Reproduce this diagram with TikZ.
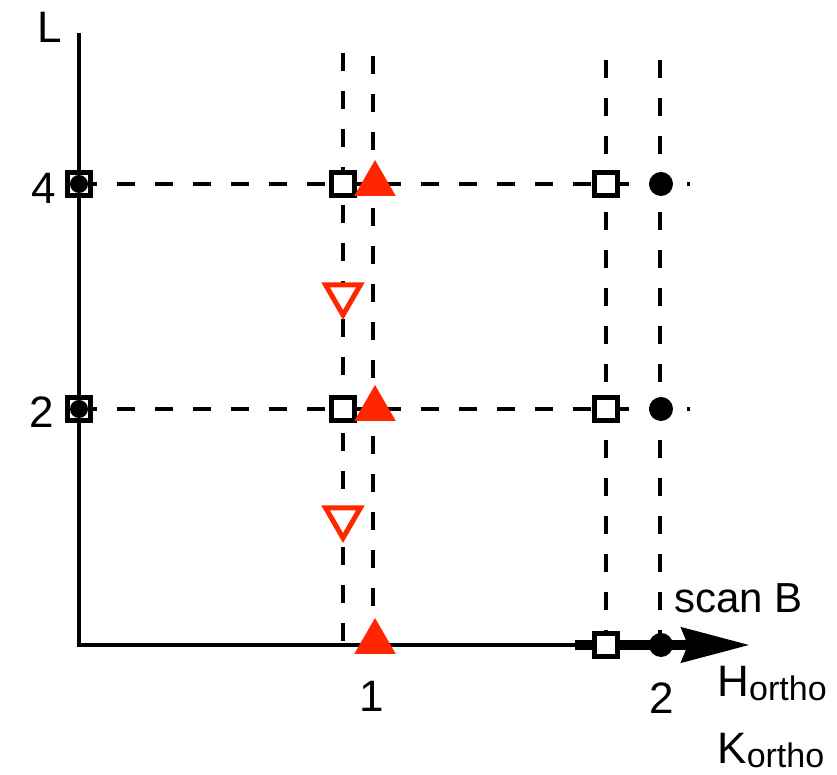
\documentclass[tikz,border=0pt]{standalone}
\usepackage{fontspec}
\setmainfont{Liberation Sans}
\usetikzlibrary{arrows.meta,shapes.geometric}
\definecolor{markred}{RGB}{255,38,0}
\begin{document}
\begin{tikzpicture}[x=0.5pt,y=0.5pt,
  lbl/.style={inner sep=0pt,font=\fontsize{22}{26}\selectfont},
  grid/.style={line width=2pt,dash pattern=on 9pt off 10pt},
  opensq/.style={draw,fill=white,line width=2.2pt,minimum size=11.5pt,inner sep=0pt},
  dot/.style={circle,fill=black,minimum size=12pt,inner sep=0pt},
  uptri/.style={regular polygon,regular polygon sides=3,fill=markred,minimum size=24pt,inner sep=0pt,outer sep=0pt},
  downtri/.style={regular polygon,regular polygon sides=3,shape border rotate=180,draw=markred,line width=2.5pt,fill=white,minimum size=20pt,inner sep=0pt,outer sep=0pt}]
  \useasboundingbox (0,0) rectangle (837,775);
  \coordinate (o) at (79,130);
  \coordinate (ytop) at (79,742);
  \coordinate (xthick) at (575,130);
  \coordinate (xtip) at (750,130);
  \coordinate (v1) at (343,722);
  \coordinate (v2) at (373,719);
  \coordinate (v3) at (606,715);
  \coordinate (v4) at (660,715);
  \coordinate (h4) at (79,591);
  \coordinate (h2) at (79,366);
  \coordinate (h4end) at (690,591);
  \coordinate (h2end) at (690,366);
  % scan lines
  \draw[grid] (v1) -- (v1 |- o);
  \draw[grid] (v2) -- (v2 |- o);
  \draw[grid] (v3) -- (v3 |- o);
  \draw[grid] (v4) -- (v4 |- o);
  \draw[grid] (h4) -- (h4end);
  \draw[grid] (h2) -- (h2end);
  % axes
  \draw[line width=2pt] (ytop) -- (o) -- (xthick);
  \draw[line width=5pt,-{Stealth[length=34pt,width=17pt,inset=3pt]}] (xthick) -- (xtip);
  % points
  \node[opensq] (l4) at (h4) {};
  \node[dot,minimum size=9pt] (l4dot) at (l4) {};
  \node[opensq] (l2) at (h2) {};
  \node[dot,minimum size=9pt] (l2dot) at (l2) {};
  \node[opensq] (a4) at (343,591) {};
  \node[opensq] (a2) at (343,366) {};
  \node[opensq] (b4) at (606,591) {};
  \node[opensq] (b2) at (606,366) {};
  \node[opensq] (b0) at (606,130) {};
  \node[dot] (c4) at (661,591) {};
  \node[dot] (c2) at (661,366) {};
  \node[dot] (c0) at (661,130) {};
  \node[uptri] (t4) at (375,591) {};
  \node[uptri] (t2) at (375,366) {};
  \node[uptri] (t0) at (375,133) {};
  \node[downtri] (d3) at (343,480) {};
  \node[downtri] (d1) at (343,257) {};
  % labels
  \node[lbl] (labL) at (50,748) {L};
  \node[lbl] (lab4) at (44,587) {4};
  \node[lbl] (lab2) at (42,363) {2};
  \node[lbl] (lab1) at (372,79) {1};
  \node[lbl] (labh2) at (662,77) {2};
  \node[lbl,anchor=base west] (scan) at (674,162) {\fontsize{21}{24}\selectfont scan B};
  \node[lbl,anchor=base west] (hlab) at (717,78) {H\raisebox{-2pt}{\fontsize{17}{20}\selectfont ortho}};
  \node[lbl,anchor=base west] (klab) at (717,11) {K\raisebox{-2pt}{\fontsize{17}{20}\selectfont ortho}};
\end{tikzpicture}
\end{document}
